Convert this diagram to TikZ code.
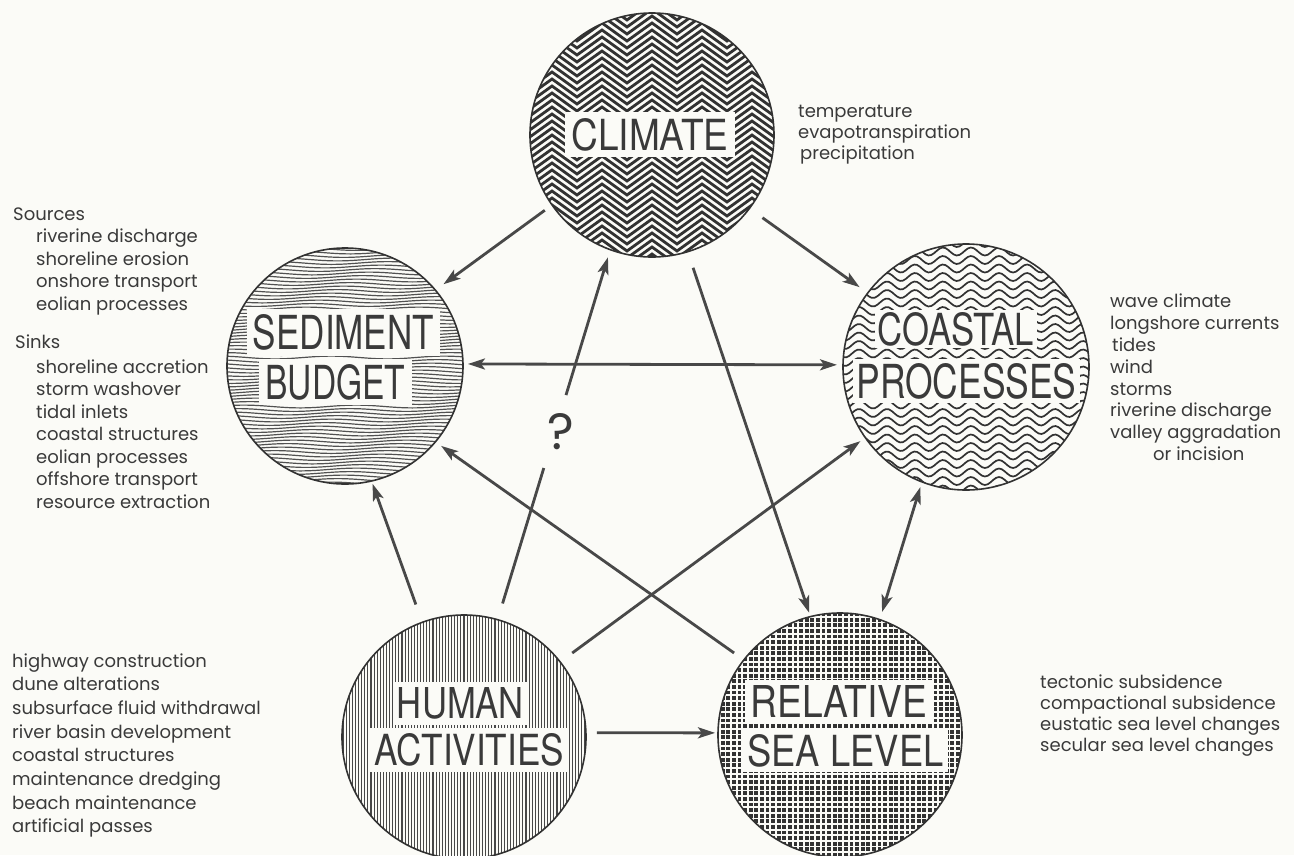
\documentclass[tikz,border=0pt]{standalone}
\usepackage{graphicx}
\usepackage{fontspec}
\setmainfont{Poppins}
\newfontfamily\labfont{TeX Gyre Heros}
\usetikzlibrary{arrows.meta}
\definecolor{bg}{RGB}{251,251,247}
\definecolor{ink}{RGB}{58,58,58}
\definecolor{pat}{RGB}{50,50,50}
\definecolor{arr}{RGB}{72,72,72}
\newcommand\lbl[3]{\resizebox{#1pt}{#2pt}{\labfont #3}}
\begin{document}
\begin{tikzpicture}[x=1pt,y=-1pt,
 circ/.style={circle, inner sep=0pt, outer sep=0pt, minimum size=#1},
 outl/.style={draw=pat, line width=1.6pt},
 zig/.style={draw=pat, line width=2.8pt, line join=miter},
 sedl/.style={draw=pat!85, line width=1.2pt},
 coastl/.style={draw=pat, line width=1.7pt},
 huml/.style={draw=pat!90, line width=1.1pt},
 labbox/.style={fill=bg, inner sep=0pt, text=ink},
 listtxt/.style={anchor=base west, inner sep=0pt, text=ink, font=\fontsize{18}{22}\selectfont},
 qmark/.style={inner sep=0pt, text=ink},
 conn/.style={draw=arr, line width=2.8pt},
 arrowline/.style={conn, -{Stealth[length=17pt,width=11pt,inset=4pt]}},
 dblarrow/.style={conn, {Stealth[length=17pt,width=11pt,inset=4pt]}-{Stealth[length=17pt,width=11pt,inset=4pt]}}
]
\fill[bg] (0,0) rectangle (1294,855);
\useasboundingbox (0,0) rectangle (1294,855);

% circle nodes
\node[circ=244pt] (clim) at (652,135) {};
\node[circ=236pt] (sed) at (345,366) {};
\node[circ=246pt] (coast) at (966,367) {};
\node[circ=244pt] (hum) at (464,737) {};
\node[circ=244pt] (rsl) at (840,735) {};

% climate pattern: chevrons
\begin{scope}
\clip (clim.center) circle[radius=122pt];
\foreach \r in {0,...,39} {
  \draw[zig] (502,{-12+7*\r}) \foreach \k in {1,...,12} { -- ({502+25*\k},{-12+7*\r+18*mod(\k,2)}) };
}
\end{scope}

% sediment pattern: fine wavy lines
\begin{scope}
\clip (sed.center) circle[radius=118pt];
\foreach \r in {0,...,70} {
  \draw[sedl] plot[domain=222:470, samples=26, smooth] (\x,{245.5+3.5*\r+1.4*sin((\x-222)*3.2+20*\r)});
}
\end{scope}

% coastal pattern: waves
\begin{scope}
\clip (coast.center) circle[radius=123pt];
\foreach \r in {0,...,30} {
  \draw[coastl] plot[domain=838:1095, samples=92, smooth] (\x,{243+8.5*\r+4*sin((\x-838)*12.857)});
}
\end{scope}

% human pattern: vertical hatching
\begin{scope}
\clip (hum.center) circle[radius=122pt];
\foreach \i in {0,...,80} {
  \draw[huml] ({340+3.1*\i},610) -- ({340+3.1*\i},862);
}
\end{scope}

% relative sea level pattern: dark dots grid
\begin{scope}
\clip (rsl.center) circle[radius=122pt];
\fill[pat] (rsl.center) circle[radius=122pt];
\foreach \k in {0,...,45} {
  \draw[bg, line width=1.8pt] (712,{611.2+5.6*\k}) -- (970,{611.2+5.6*\k});
  \draw[bg, line width=1.8pt] ({714.2+5.6*\k},608) -- ({714.2+5.6*\k},862);
}
\end{scope}

% outlines
\draw[outl] (clim.center) circle[radius=122pt];
\draw[outl] (sed.center) circle[radius=118pt];
\draw[outl] (coast.center) circle[radius=123pt];
\draw[outl] (hum.center) circle[radius=122pt];
\draw[outl] (rsl.center) circle[radius=122pt];

% labels
\node[labbox, minimum width=170pt, minimum height=45pt] (climT) at (650,134.5) {\lbl{157}{32}{CLIMATE}};
\node[labbox, minimum width=193pt, minimum height=47pt] (sedT1) at (343.5,332.5) {\lbl{181}{35}{SEDIMENT}};
\node[labbox, minimum width=153pt, minimum height=46pt] (sedT2) at (335.5,382) {\lbl{140}{35}{BUDGET}};
\node[labbox, minimum width=162pt, minimum height=38pt] (coastT1) at (956,329) {\lbl{156}{33}{COASTAL}};
\node[labbox, minimum width=227pt, minimum height=44pt] (coastT2) at (966.5,381) {\lbl{220}{35}{PROCESSES}};
\node[labbox, minimum width=135pt, minimum height=43pt] (humT1) at (460.5,703.5) {\lbl{127}{31}{HUMAN}};
\node[labbox, minimum width=198pt, minimum height=44pt] (humT2) at (469,750) {\lbl{190}{32}{ACTIVITIES}};
\node[labbox, minimum width=188pt, minimum height=42pt] (rslT1) at (839,701) {\lbl{177}{32}{RELATIVE}};
\node[labbox, minimum width=205pt, minimum height=42pt] (rslT2) at (845.5,751) {\lbl{196}{32}{SEA LEVEL}};

% connectors
\draw[arrowline, shorten <=9pt, shorten >=10pt] (clim.215) -- (sed.40);
\draw[arrowline, shorten <=16pt, shorten >=10pt] (clim.323) -- (coast.143);
\draw[arrowline, shorten <=17pt, shorten >=4pt] (clim.287) -- (rsl.104);
\draw[dblarrow, shorten <=5pt, shorten >=6pt] (sed.1) -- (coast.179);
\path (hum.74) -- (clim.250)
  coordinate[pos=0.044] (qs) coordinate[pos=0.41] (qa)
  coordinate[pos=0.607] (qb) coordinate[pos=0.507] (qm);
\draw[conn] (qs) -- (qa);
\draw[arrowline, shorten >=8pt] (qb) -- (clim.250);
\node[qmark] (q) at ([xshift=6pt]qm) {\resizebox{!}{36pt}{?}};
\draw[arrowline, shorten <=19pt, shorten >=3pt] (hum.110) -- (sed.283);
\draw[arrowline, shorten <=15pt, shorten >=6pt] (hum.38) -- (coast.215);
\draw[arrowline, shorten <=12pt, shorten >=7pt] (rsl.142) -- (sed.320);
\draw[dblarrow, shorten <=8pt, shorten >=5.5pt] (rsl.71) -- (coast.249);
\draw[arrowline, shorten <=11pt, shorten >=3pt] (hum.2) -- (rsl.179);

% text lists
\node[listtxt] (climL1) at (798,117) {temperature};
\node[listtxt] (climL2) at (798,138) {evapotranspiration};
\node[listtxt] (climL3) at (800,159) {precipitation};

\node[listtxt] (src0) at (13,220) {Sources};
\foreach \t [count=\i] in {riverine discharge, shoreline erosion, onshore transport, eolian processes}
  \node[listtxt] (src\i) at (36,{220+22.5*\i}) {\t};
\node[listtxt] (snk0) at (15,348) {Sinks};
\foreach \t [count=\i] in {shoreline accretion, storm washover, tidal inlets, coastal structures, eolian processes, offshore transport, resource extraction}
  \node[listtxt] (snk\i) at (36,{350.5+22.5*\i}) {\t};

\foreach \t/\xx [count=\i] in {wave climate/1110, longshore currents/1110, tides/1112, wind/1110, storms/1110, riverine discharge/1110, valley aggradation/1110, or incision/1153}
  \node[listtxt] (cst\i) at (\xx,{286+21.8*\i}) {\t};

\foreach \t [count=\i] in {highway construction, dune alterations, subsurface fluid withdrawal, river basin development, coastal structures, maintenance dredging, beach maintenance, artificial passes}
  \node[listtxt] (hm\i) at (12,{643.3+23.7*\i}) {\t};

\foreach \t [count=\i] in {tectonic subsidence, compactional subsidence, eustatic sea level changes, secular sea level changes}
  \node[listtxt] (sl\i) at (1040,{667+21*\i}) {\t};
\end{tikzpicture}
\end{document}
